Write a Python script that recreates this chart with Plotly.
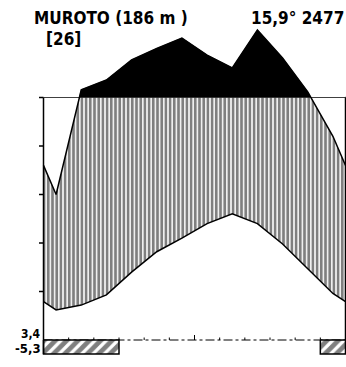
import plotly.graph_objects as go

# ---- data (Walter-Lieth climate diagram) ----
months = ["Jan", "Feb", "Mar", "Apr", "May", "Jun", "Jul", "Aug", "Sep", "Oct", "Nov", "Dec"]
temperature = [6.2, 7.2, 9.3, 14.0, 18.2, 21.0, 24.0, 26.0, 24.0, 19.8, 14.6, 9.6]   # deg C
precipitation = [60, 132, 172, 255, 302, 345, 275, 222, 378, 263, 123, 84]          # mm
frost_months = [1, 2, 3, 12]          # months with absolute minimum below 0 deg C
station = "MUROTO (186 m )"
years = "[26]"
annual = "15,9° 2477"
min_labels = ["3,4", "-5,3"]
y_ticks = [10, 20, 30, 40, 50]

# ---- geometry ----
W, H = 346, 367
X0_PX, X1_PX = 43.5, 345.5
BASE_PX, PX_PER_DEG = 340.0, 4.85
PX_PER_MONTH = (X1_PX - X0_PX) / 12.0
x_range = [-X0_PX / PX_PER_MONTH, (W - X0_PX) / PX_PER_MONTH]
y_range = [-(H - BASE_PX) / PX_PER_DEG, BASE_PX / PX_PER_DEG]


def pmap(p):
    return p / 2.0 if p <= 100 else 50.0 + (p - 100.0) / 20.0


n = len(months)
edge_t = (temperature[0] + temperature[-1]) / 2.0
edge_p = (precipitation[0] + precipitation[-1]) / 2.0
xs = [0.0] + [i + 0.5 for i in range(n)] + [12.0]
ts = [edge_t] + temperature + [edge_t]
ps = [pmap(edge_p)] + [pmap(p) for p in precipitation] + [pmap(edge_p)]

LEVEL = 50.0
cx, hi, lo = [], [], []
for i in range(len(xs)):
    if i > 0:
        y0, y1 = ps[i - 1], ps[i]
        if (y0 - LEVEL) * (y1 - LEVEL) < 0:
            t = (LEVEL - y0) / (y1 - y0)
            cx.append(xs[i - 1] + t * (xs[i] - xs[i - 1]))
            hi.append(LEVEL)
            lo.append(LEVEL)
    cx.append(xs[i])
    hi.append(max(ps[i], LEVEL))
    lo.append(min(ps[i], LEVEL))

fig = go.Figure()

# vertical hatching: humid period (precipitation above temperature)
fig.add_trace(go.Scatter(
    x=cx + xs[::-1], y=lo + ts[::-1], mode="lines", fill="toself",
    fillcolor="white", line=dict(width=0, color="black"),
    fillpattern=dict(shape="|", size=4.2, solidity=0.65, fgcolor="black", bgcolor="white"),
    hoverinfo="skip", showlegend=False))

# black area: precipitation above 100 mm (reduced scale)
fig.add_trace(go.Scatter(
    x=cx + cx[::-1], y=hi + [LEVEL] * len(cx), mode="lines", fill="toself",
    fillcolor="black", line=dict(width=0.5, color="black"),
    hoverinfo="skip", showlegend=False))

# curves
fig.add_trace(go.Scatter(x=xs, y=ps, mode="lines", line=dict(color="black", width=1.5),
                         hoverinfo="skip", showlegend=False))
fig.add_trace(go.Scatter(x=xs, y=ts, mode="lines", line=dict(color="black", width=1.5),
                         hoverinfo="skip", showlegend=False))

# frost boxes (diagonal hatch), merge consecutive months
runs = []
for m in sorted(frost_months):
    if runs and runs[-1][1] == m - 1:
        runs[-1][1] = m
    else:
        runs.append([m, m])
box_bottom = -14.0 / PX_PER_DEG
for a, b in runs:
    x0, x1 = a - 1, b
    fig.add_trace(go.Scatter(
        x=[x0, x1, x1, x0, x0], y=[0, 0, box_bottom, box_bottom, 0], mode="lines",
        fill="toself", fillcolor="white", line=dict(color="black", width=1.5),
        fillpattern=dict(shape="/", size=8, solidity=0.6, fgcolor="black", bgcolor="white"),
        hoverinfo="skip", showlegend=False))

shapes = []
# baseline (dash-dot)
shapes.append(dict(type="line", xref="x", yref="y", x0=0, x1=12, y0=0, y1=0,
                   line=dict(color="black", width=1, dash="dashdot"), layer="below"))
# month ticks
for k in range(1, 12):
    h = 5.0 / PX_PER_DEG if k == 6 else 2.5 / PX_PER_DEG
    shapes.append(dict(type="line", xref="x", yref="y", x0=k, x1=k, y0=0, y1=h,
                       line=dict(color="black", width=1)))
# left and right axes
tick_len = 4.5 / PX_PER_MONTH
shapes.append(dict(type="line", xref="x", yref="y", x0=0, x1=0, y0=box_bottom, y1=50,
                   line=dict(color="black", width=1.5)))
shapes.append(dict(type="line", xref="x", yref="y", x0=12, x1=12, y0=0, y1=50,
                   line=dict(color="black", width=1.5)))
for v in y_ticks:
    shapes.append(dict(type="line", xref="x", yref="y", x0=-tick_len, x1=0, y0=v, y1=v,
                       line=dict(color="black", width=1.5)))
    shapes.append(dict(type="line", xref="x", yref="y", x0=12, x1=12 + tick_len, y0=v, y1=v,
                       line=dict(color="black", width=1.5)))


def px(x, y):
    return x / W, 1 - y / H


FONT = "DejaVu Sans Condensed, DejaVu Sans, sans-serif"
annotations = []


def label(text, xp, yp, xanchor, size):
    ax, ay = px(xp, yp)
    annotations.append(dict(text=f"<b>{text}</b>", x=ax, y=ay,
                            xref="paper", yref="paper",
                            xanchor=xanchor, yanchor="middle", showarrow=False,
                            font=dict(family=FONT, size=size, color="black")))


label(station, 32, 18, "left", 17)
label(years, 44, 39, "left", 17)
label(annual, 346, 18, "right", 17)
label(min_labels[0], 43, 334, "right", 12)
label(min_labels[1], 43, 348, "right", 13)

fig.update_layout(
    width=W, height=H, margin=dict(l=0, r=0, t=0, b=0, pad=0),
    paper_bgcolor="white", plot_bgcolor="white",
    xaxis=dict(range=x_range, visible=False, showgrid=False, zeroline=False, fixedrange=True),
    yaxis=dict(range=y_range, visible=False, showgrid=False, zeroline=False, fixedrange=True),
    shapes=shapes, annotations=annotations, showlegend=False,
)

fig.write_html("out.html", config={"displayModeBar": False},
               post_script="document.body.style.margin='0';document.body.style.padding='0';")
